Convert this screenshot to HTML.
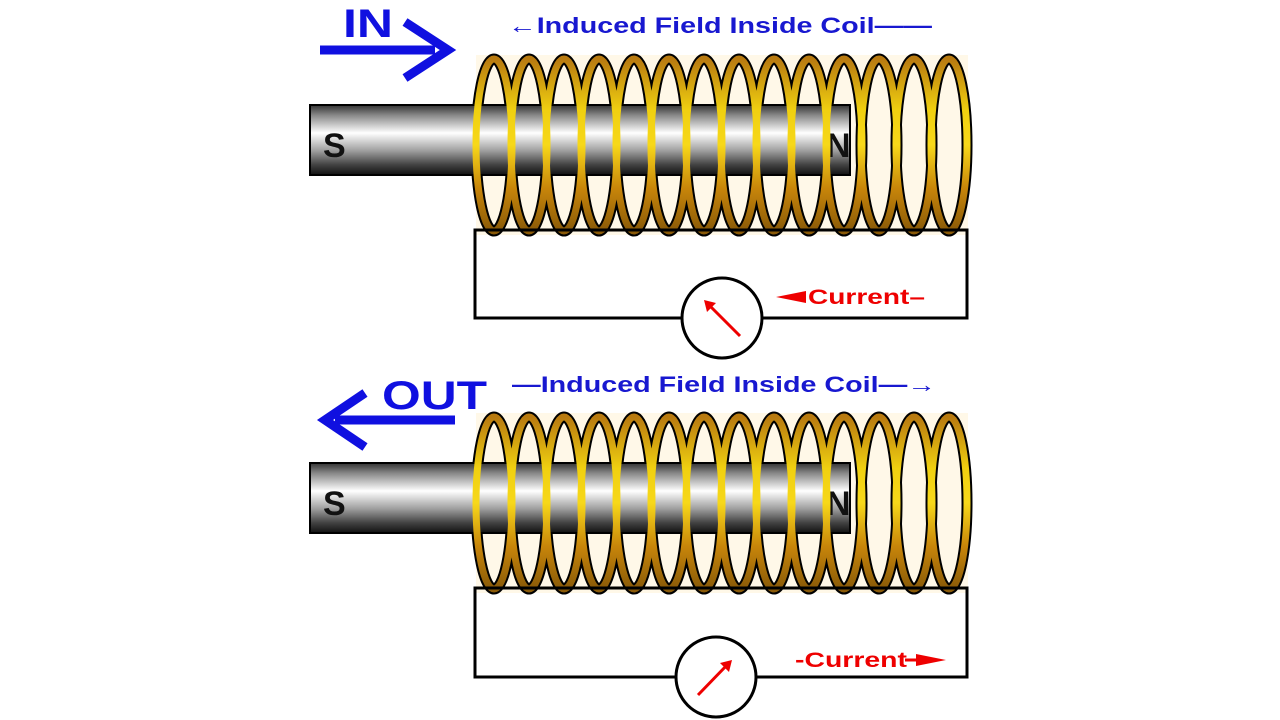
<!DOCTYPE html>
<html><head><style>
html,body{margin:0;padding:0;background:#fff;width:1280px;height:720px;overflow:hidden}
</style></head><body>
<svg width="1280" height="720" viewBox="0 0 1280 720" xmlns="http://www.w3.org/2000/svg" font-family="Liberation Sans, sans-serif">
<defs>
<linearGradient id="mag" x1="0" y1="0" x2="0" y2="1">
<stop offset="0" stop-color="#333"/><stop offset="0.15" stop-color="#8a8a8a"/>
<stop offset="0.4" stop-color="#ffffff"/><stop offset="0.65" stop-color="#a0a0a0"/>
<stop offset="0.85" stop-color="#444"/><stop offset="1" stop-color="#111"/>
</linearGradient>
<linearGradient id="gold" x1="0" y1="0" x2="0" y2="1">
<stop offset="0" stop-color="#b87a10"/><stop offset="0.3" stop-color="#f0d010"/>
<stop offset="0.5" stop-color="#f7d81a"/><stop offset="0.75" stop-color="#c8860a"/>
<stop offset="1" stop-color="#8a5a08"/>
</linearGradient>
<g id="coil">
<rect x="476" y="0" width="492" height="180" fill="#fff8e8"/>
<g fill="none" stroke="#000" stroke-width="11">
<ellipse cx="494" cy="90" rx="18" ry="86"/><ellipse cx="529" cy="90" rx="18" ry="86"/><ellipse cx="564" cy="90" rx="18" ry="86"/><ellipse cx="599" cy="90" rx="18" ry="86"/><ellipse cx="634" cy="90" rx="18" ry="86"/><ellipse cx="669" cy="90" rx="18" ry="86"/><ellipse cx="704" cy="90" rx="18" ry="86"/><ellipse cx="739" cy="90" rx="18" ry="86"/><ellipse cx="774" cy="90" rx="18" ry="86"/><ellipse cx="809" cy="90" rx="18" ry="86"/><ellipse cx="844" cy="90" rx="18" ry="86"/><ellipse cx="879" cy="90" rx="18" ry="86"/><ellipse cx="914" cy="90" rx="18" ry="86"/><ellipse cx="949" cy="90" rx="18" ry="86"/>
</g>
</g>
<g id="loops" fill="none" stroke="url(#gold)" stroke-width="7">
<ellipse cx="494" cy="90" rx="18" ry="86"/><ellipse cx="529" cy="90" rx="18" ry="86"/><ellipse cx="564" cy="90" rx="18" ry="86"/><ellipse cx="599" cy="90" rx="18" ry="86"/><ellipse cx="634" cy="90" rx="18" ry="86"/><ellipse cx="669" cy="90" rx="18" ry="86"/><ellipse cx="704" cy="90" rx="18" ry="86"/><ellipse cx="739" cy="90" rx="18" ry="86"/><ellipse cx="774" cy="90" rx="18" ry="86"/><ellipse cx="809" cy="90" rx="18" ry="86"/><ellipse cx="844" cy="90" rx="18" ry="86"/><ellipse cx="879" cy="90" rx="18" ry="86"/><ellipse cx="914" cy="90" rx="18" ry="86"/><ellipse cx="949" cy="90" rx="18" ry="86"/>
</g>
</defs>

<!-- TOP -->
<g transform="translate(0,55)"><use href="#coil"/></g>
<rect x="310" y="105" width="540" height="70" fill="url(#mag)" stroke="#000" stroke-width="2"/>
<text x="323" y="157" font-size="34" font-weight="bold" fill="#111">S</text>
<text x="826" y="157" font-size="34" font-weight="bold" fill="#111">N</text>
<g transform="translate(0,55)"><use href="#loops"/></g>
<rect x="475" y="230" width="492" height="88" fill="none" stroke="#000" stroke-width="3"/>
<circle cx="722" cy="318" r="40" fill="#fff" stroke="#000" stroke-width="3"/>
<line x1="740" y1="336" x2="708" y2="304" stroke="#e00" stroke-width="3"/>
<polygon points="704,300 716,303 707,312" fill="#e00"/>
<text x="808" y="304" font-size="21" font-weight="bold" fill="#e00" textLength="117" lengthAdjust="spacingAndGlyphs">Current–</text>
<polygon points="776,297 806,291 806,303" fill="#e00"/>
<text x="343" y="37" font-size="40" font-weight="bold" fill="#1010e0" textLength="50" lengthAdjust="spacingAndGlyphs">IN</text>
<line x1="320" y1="50" x2="435" y2="50" stroke="#1010e0" stroke-width="9"/>
<polyline points="405,22 448,50 405,78" fill="none" stroke="#1010e0" stroke-width="9"/>
<text x="508" y="33" font-size="22" font-weight="bold" fill="#1818d0" textLength="424" lengthAdjust="spacingAndGlyphs">←Induced Field Inside Coil——</text>

<!-- BOTTOM -->
<g transform="translate(0,413)"><use href="#coil"/></g>
<rect x="310" y="463" width="540" height="70" fill="url(#mag)" stroke="#000" stroke-width="2"/>
<text x="323" y="515" font-size="34" font-weight="bold" fill="#111">S</text>
<text x="826" y="515" font-size="34" font-weight="bold" fill="#111">N</text>
<g transform="translate(0,413)"><use href="#loops"/></g>
<rect x="475" y="588" width="492" height="89" fill="none" stroke="#000" stroke-width="3"/>
<circle cx="716" cy="677" r="40" fill="#fff" stroke="#000" stroke-width="3"/>
<line x1="698" y1="695" x2="728" y2="664" stroke="#e00" stroke-width="3"/>
<polygon points="732,660 729,672 720,663" fill="#e00"/>
<text x="795" y="667" font-size="21" font-weight="bold" fill="#e00" textLength="112" lengthAdjust="spacingAndGlyphs">-Current</text>
<line x1="905" y1="660" x2="925" y2="660" stroke="#e00" stroke-width="3"/>
<polygon points="946,660 916,654 916,666" fill="#e00"/>
<text x="382" y="409" font-size="40" font-weight="bold" fill="#1010e0" textLength="105" lengthAdjust="spacingAndGlyphs">OUT</text>
<line x1="335" y1="420" x2="455" y2="420" stroke="#1010e0" stroke-width="9"/>
<polyline points="365,393 325,420 365,447" fill="none" stroke="#1010e0" stroke-width="9"/>
<text x="512" y="392" font-size="22" font-weight="bold" fill="#1818d0" textLength="424" lengthAdjust="spacingAndGlyphs">—Induced Field Inside Coil—→</text>
</svg>
</body></html>
